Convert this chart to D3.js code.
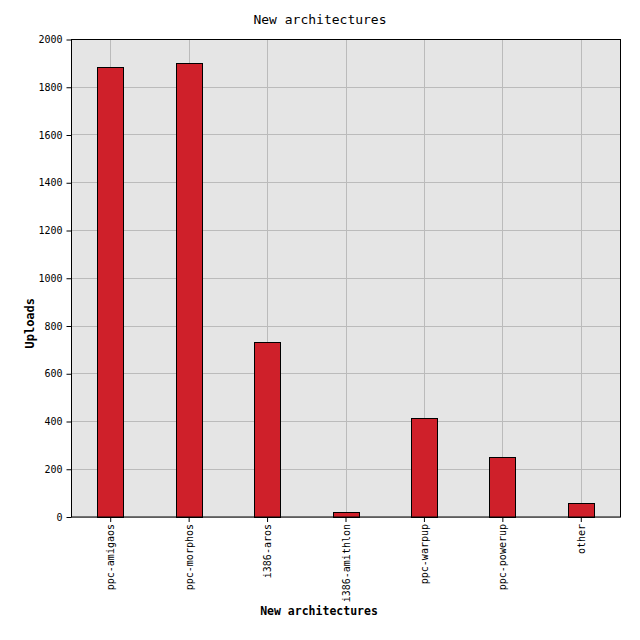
<!DOCTYPE html>
<html lang="en">
<head>
<meta charset="UTF-8"/>
<title>New architectures</title>
<script src="https://d3js.org/d3.v7.min.js"></script>
<style>
    body { margin: 0; background: #fff; }
    text { font-family: "DejaVu Sans Mono", monospace; fill: #000; }
</style>
</head>
<body>
<script>
    // Chart data
    var categories = ["ppc-amigaos", "ppc-morphos", "i386-aros", "i386-amithlon", "ppc-warpup", "ppc-powerup", "other"];
    var uploads = [1883, 1900, 732, 20, 413, 250, 57];
    var yTicks = [0, 200, 400, 600, 800, 1000, 1200, 1400, 1600, 1800, 2000];

    var W = 640, H = 640;
    var margin = { top: 39.5, right: 19.5, bottom: 123, left: 71.5 };
    var w = W - margin.left - margin.right;
    var h = H - margin.top - margin.bottom;

    var xScale = d3.scaleBand()
                   .domain(categories)
                   .range([0, w]);

    var yScale = d3.scaleLinear()
                   .domain([0, 2000])
                   .range([h, 0]);

    var svg = d3.select("body")
                .append("svg")
                .attr("width", W)
                .attr("height", H);

    var g = svg.append("g")
               .attr("transform", "translate(" + margin.left + "," + margin.top + ")");

    // Plot background
    g.append("rect")
     .attr("width", w)
     .attr("height", h)
     .attr("fill", "#e5e5e5");

    // Grid lines
    g.selectAll(".hgrid")
     .data(yTicks)
     .enter()
     .append("line")
     .attr("x1", 0)
     .attr("x2", w)
     .attr("y1", function(d) { return Math.round(yScale(d)); })
     .attr("y2", function(d) { return Math.round(yScale(d)); })
     .attr("stroke", "#bbbbbb");

    g.selectAll(".vgrid")
     .data(categories)
     .enter()
     .append("line")
     .attr("x1", function(d) { return Math.round(xScale(d) + xScale.bandwidth() / 2); })
     .attr("x2", function(d) { return Math.round(xScale(d) + xScale.bandwidth() / 2); })
     .attr("y1", 0)
     .attr("y2", h)
     .attr("stroke", "#bbbbbb");

    // Bars
    var barW = 26;
    g.selectAll(".bar")
     .data(uploads)
     .enter()
     .append("rect")
     .attr("x", function(d, i) { return Math.round(xScale(categories[i]) + xScale.bandwidth() / 2 - barW / 2); })
     .attr("y", function(d) { return Math.round(yScale(d)); })
     .attr("width", barW)
     .attr("height", function(d) { return Math.round(h - yScale(d)); })
     .attr("fill", "#cf202a")
     .attr("stroke", "#000")
     .attr("stroke-width", 1);

    // Frame
    g.append("rect")
     .attr("width", w)
     .attr("height", h)
     .attr("fill", "none")
     .attr("stroke", "#000");

    // Axes
    var yAxis = d3.axisLeft(yScale)
                  .tickValues(yTicks)
                  .tickSize(5)
                  .tickPadding(4)
                  .tickFormat(d3.format("d"));

    var xAxis = d3.axisBottom(xScale)
                  .tickSize(5)
                  .tickPadding(3);

    g.append("g")
     .attr("class", "y-axis")
     .call(yAxis)
     .call(function(s) { s.select(".domain").remove(); })
     .selectAll("text")
     .style("font-size", "10px");

    g.append("g")
     .attr("class", "x-axis")
     .attr("transform", "translate(0," + h + ")")
     .call(xAxis)
     .call(function(s) { s.select(".domain").remove(); })
     .selectAll("text")
     .style("font-size", "10px")
     .attr("text-anchor", "end")
     .attr("dy", "0.35em")
     .attr("transform", "translate(0,7) rotate(-90)")
     .attr("x", 0)
     .attr("y", 0);

    // Titles
    svg.append("text")
       .attr("x", 320)
       .attr("y", 24)
       .attr("text-anchor", "middle")
       .style("font-size", "13px")
       .text("New architectures");

    svg.append("text")
       .attr("x", 319)
       .attr("y", 615)
       .attr("text-anchor", "middle")
       .style("font-size", "11.5px")
       .style("font-weight", "bold")
       .text("New architectures");

    svg.append("text")
       .attr("transform", "translate(34," + (margin.top + h / 2 + 45) + ") rotate(-90)")
       .attr("text-anchor", "middle")
       .style("font-size", "12px")
       .style("font-weight", "bold")
       .text("Uploads");
</script>
</body>
</html>
